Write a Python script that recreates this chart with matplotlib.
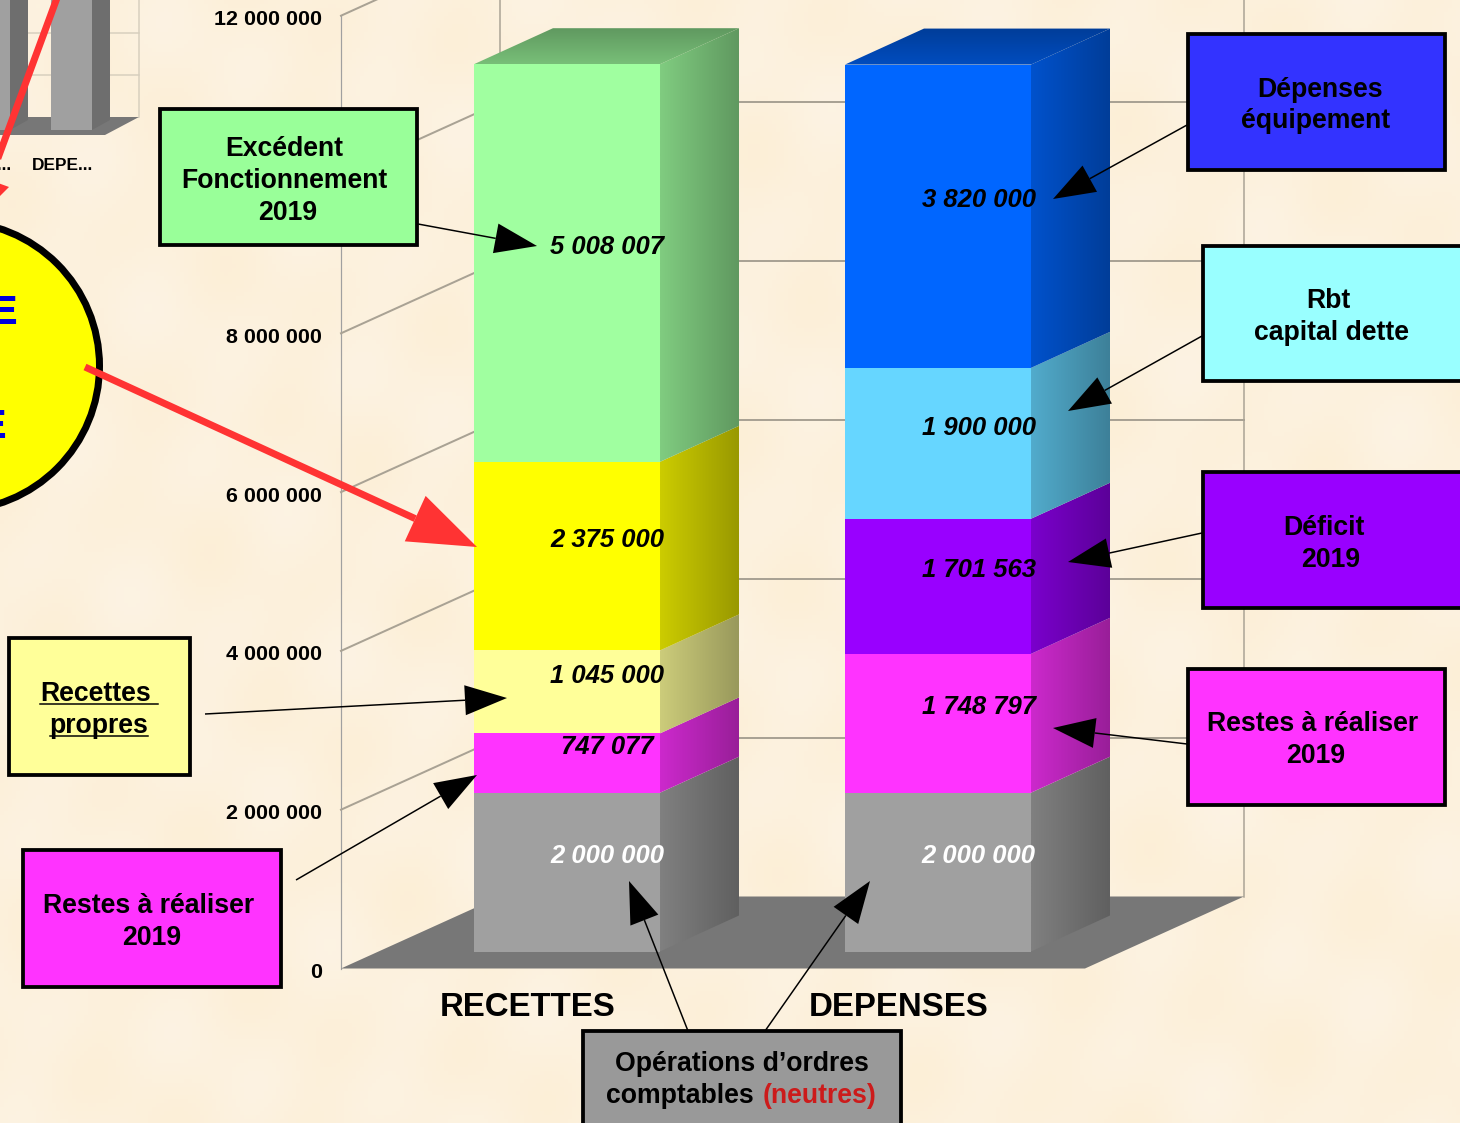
#!/usr/bin/env python3
"""Stacked 3D-style budget columns with callout boxes."""

import numpy as np

import matplotlib
matplotlib.use("Agg")
import matplotlib.pyplot as plt
from matplotlib.patches import Circle, Polygon, Rectangle

plt.rcParams["font.family"] = ["Liberation Sans", "DejaVu Sans"]

CATEGORIES = ["RECETTES", "DEPENSES"]
RECETTES_VALUES = [2000000, 747077, 1045000, 2375000, 5008007]
DEPENSES_VALUES = [2000000, 1748797, 1701563, 1900000, 3820000]
RECETTES_COLORS = ["#A0A0A0", "#FF33FF", "#FFFF99", "#FFFF00", "#A0FFA0"]
DEPENSES_COLORS = ["#A0A0A0", "#FF33FF", "#9900FF", "#66D6FF", "#0066FF"]
TICK_VALUES = [0, 2000000, 4000000, 6000000, 8000000, 10000000, 12000000]
# the 10 000 000 label sits behind the green box in the original
HIDDEN_TICK_LABELS = [10000000]

W, H = 1460, 1123
K = 79.4e-6            # pixels per unit of value
Y0 = 951.5             # pixel row of value 0 at the bar front
BAR_LEFT = [474, 845]
BAR_W = 186
DX, DY = 79, 36        # bar depth


def v(px):
    return (Y0 - px) / K


def pt(px):
    return px * 72 / 100


def fmt(n):
    return f"{n:,}".replace(",", " ")


def shade(color, f):
    return np.array(matplotlib.colors.to_rgb(color)) * f


def gradient_face(ax, pts, c0, c1, horizontal=True, zorder=3):
    poly = Polygon(pts, closed=True, fc="none", ec="none", transform=ax.transData)
    ax.add_patch(poly)
    xs, ys = zip(*pts)
    t = np.linspace(0, 1, 64)
    g = np.outer(1 - t, c0) + np.outer(t, c1)
    g = g[None, :, :] if horizontal else g[:, None, :]
    im = ax.imshow(g, extent=[min(xs), max(xs), min(ys), max(ys)], aspect="auto",
                   origin="lower", interpolation="bilinear", zorder=zorder)
    im.set_clip_path(poly)


def draw_column(ax, left, values, colors, label):
    dv = DY / K
    bottom = 0
    cx = left + BAR_W / 2
    for val, col in zip(values, colors):
        ax.bar(left, val, width=BAR_W, bottom=bottom, align="edge", color=col, zorder=4)
        right = left + BAR_W
        face = [(right, bottom), (right + DX, bottom + dv),
                (right + DX, bottom + val + dv), (right, bottom + val)]
        gradient_face(ax, face, shade(col, 0.8), shade(col, 0.6))
        txtcol = "white" if col == "#A0A0A0" else "black"
        ax.text(cx + DX / 2 + 1, bottom + val / 2 + 15.8 / K, fmt(val), color=txtcol, ha="center",
                va="center", fontsize=pt(25.6), fontweight="bold", style="italic", zorder=6)
        bottom += val
    top = [(left, bottom), (left + DX, bottom + dv),
           (left + DX + BAR_W, bottom + dv), (left + BAR_W, bottom)]
    gradient_face(ax, top, shade(colors[-1], 0.75), shade(colors[-1], 0.6), horizontal=False)
    ax.text(cx - DX / 2, v(1007), label, ha="center", va="center", fontsize=pt(33),
            fontweight="bold", zorder=6)


def arrow(ov, x0, y0, x1, y1, color="black", lw=1.5, hl=42, hw=30, zorder=8):
    d = np.array([x1 - x0, y1 - y0], dtype=float)
    d /= np.hypot(*d)
    n = np.array([-d[1], d[0]])
    tip = np.array([x1, y1])
    base = tip - d * hl
    ov.plot([x0, base[0]], [y0, base[1]], color=color, lw=pt(lw), solid_capstyle="butt", zorder=zorder)
    ov.add_patch(Polygon([tip, base + n * hw / 2, base - n * hw / 2], closed=True,
                         fc=color, ec="none", zorder=zorder))


def box(ov, x0, y0, x1, y1, color):
    ov.add_patch(Rectangle((x0 + 1, y0 + 1), x1 - x0 - 2, y1 - y0 - 2, fc=color, ec="black",
                           lw=pt(3.8), joinstyle="miter", zorder=5))


def label(ov, x, y, s, size=26.6, **kw):
    ov.text(x, y + 2, s, ha=kw.pop("ha", "center"), va="center", fontsize=pt(size),
            fontweight="bold", zorder=6, **kw)


def main():
    fig = plt.figure(figsize=(W / 100, H / 100), dpi=100)
    ax = fig.add_axes([0, 0, 1, 1])
    ax.axis("off")

    # parchment background
    xx, yy = np.meshgrid(np.arange(0, W, 4), np.arange(0, H, 4))
    mott = (np.sin(xx / 31 + yy / 53) + np.sin(xx / 19 - yy / 41 + 1.3)
            + np.sin(xx / 71 + yy / 23 + 2.1))
    bg = np.dstack([np.full_like(mott, 252), 241 + mott * 0.7, 221 + mott * 2.0]) / 255
    ax.imshow(bg, extent=[0, W, v(H), v(0)], aspect="auto", origin="lower", zorder=0)

    # walls and floor
    wall_col = "#A9A294"
    front = -17 / K
    back = 55 / K
    ax.add_patch(Polygon([(341, front), (1085, front), (1244, back), (500, back)],
                         closed=True, fc="#777777", ec="none", zorder=2))
    ax.plot([341, 341], [front, front + TICK_VALUES[-1]], color="#A0A0A0", lw=pt(1.2), zorder=1)
    ax.plot([500, 500], [back, v(0)], color=wall_col, lw=pt(1.5), zorder=1)
    ax.plot([1244, 1244], [back, v(0)], color=wall_col, lw=pt(1.5), zorder=1)
    for t in TICK_VALUES:
        if t > 0:
            ax.plot([341, 500], [front + t, back + t], color=wall_col, lw=pt(2), zorder=1)
            ax.plot([500, 1244], [back + t, back + t], color=wall_col, lw=pt(2), zorder=1)
        if t not in HIDDEN_TICK_LABELS:
            ax.text(322, front + t - 4 / K, fmt(t), ha="right", va="center", fontsize=pt(21.5),
                    fontweight="bold", zorder=3)

    draw_column(ax, BAR_LEFT[0], RECETTES_VALUES, RECETTES_COLORS, CATEGORIES[0])
    draw_column(ax, BAR_LEFT[1], DEPENSES_VALUES, DEPENSES_COLORS, CATEGORIES[1])

    ax.set_xlim(0, W)
    ax.set_ylim(v(H), v(0))

    # overlay in pixels for the slide decoration
    ov = fig.add_axes([0, 0, 1, 1], zorder=2)
    ov.axis("off")
    ov.set_xlim(0, W)
    ov.set_ylim(H, 0)

    # small chart cut off in the corner
    for y in (33, 75):
        ov.plot([0, 139], [y, y], color="#D8CFBE", lw=pt(1.5), zorder=1)
    ov.plot([139, 139], [0, 117], color="#D8CFBE", lw=pt(1.5), zorder=1)
    ov.add_patch(Polygon([(0, 135), (105, 135), (139, 117), (0, 117)], closed=True,
                         fc="#777777", ec="none", zorder=2))
    for x0, x1, x2 in ((-30, 10, 28), (51, 92, 110)):
        ov.add_patch(Rectangle((x0, 0), x1 - x0, 130, fc="#A0A0A0", ec="none", zorder=3))
        ov.add_patch(Polygon([(x1, 0), (x2, 0), (x2, 120), (x1, 130)], closed=True,
                             fc="#6E6E6E", ec="none", zorder=3))
    ov.text(12, 166, "RECE...", ha="right", va="center", fontsize=pt(17.2), fontweight="bold", zorder=3)
    ov.text(32, 166, "DEPE...", ha="left", va="center", fontsize=pt(17.2), fontweight="bold", zorder=3)

    # yellow disc
    ov.add_patch(Circle((-45, 366), 144.5, fc="#FFFF00", ec="black", lw=pt(7), zorder=4))
    ov.text(17, 313, "E", color="#0000DD", ha="right", va="center", fontsize=pt(40),
            fontweight="bold", zorder=5)
    ov.text(6, 427, "E", color="#0000DD", ha="right", va="center", fontsize=pt(40),
            fontweight="bold", zorder=5)

    # callout boxes
    box(ov, 159, 108, 418, 246, "#99FF99")
    label(ov, 284, 147, "Excédent")
    label(ov, 284, 179, "Fonctionnement")
    label(ov, 288, 211, "2019")
    box(ov, 1187, 33, 1446, 171, "#3333FF")
    label(ov, 1320, 88, "Dépenses")
    label(ov, 1316, 119, "équipement")
    box(ov, 1202, 245, 1464, 382, "#99FFFF")
    label(ov, 1328, 299, "Rbt")
    label(ov, 1331, 331, "capital dette")
    box(ov, 1202, 471, 1464, 609, "#9900FF")
    label(ov, 1324, 526, "Déficit")
    label(ov, 1331, 558, "2019")
    box(ov, 1187, 668, 1446, 806, "#FF33FF")
    label(ov, 1313, 722, "Restes à réaliser")
    label(ov, 1316, 754, "2019")
    box(ov, 8, 637, 191, 776, "#FFFF99")
    label(ov, 96, 692, "Recettes")
    label(ov, 99, 724, "propres")
    ov.plot([40, 158], [704, 704], color="black", lw=pt(1.5), zorder=6)
    ov.plot([50, 148], [736, 736], color="black", lw=pt(1.5), zorder=6)
    box(ov, 22, 849, 282, 988, "#FF33FF")
    label(ov, 149, 904, "Restes à réaliser")
    label(ov, 152, 936, "2019")
    box(ov, 582, 1030, 902, 1130, "#999999")
    label(ov, 742, 1062, "Opérations d’ordres")
    label(ov, 754, 1094, "comptables", ha="right")
    label(ov, 763, 1094, "(neutres)", ha="left", color="#CC1B1B")

    # black arrows
    arrow(ov, 418, 224, 537, 246)
    arrow(ov, 1187, 125, 1053, 199)
    arrow(ov, 1202, 336, 1068, 411)
    arrow(ov, 1202, 533, 1068, 562)
    arrow(ov, 1187, 744, 1053, 728)
    arrow(ov, 205, 714, 507, 698)
    arrow(ov, 296, 880, 477, 775)
    arrow(ov, 688, 1031, 629, 881)
    arrow(ov, 765, 1031, 870, 881)

    # red arrows
    arrow(ov, 85, 367, 477, 547, color="#FF3333", lw=7, hl=68, hw=50, zorder=9)
    ov.plot([57, -2], [-2, 158], color="#FF3333", lw=pt(7), zorder=9)
    ov.add_patch(Polygon([(9, 187), (-2, 198), (-2, 183)], closed=True, fc="#FF3333",
                         ec="none", zorder=9))

    fig.savefig("out.png", dpi=100)


if __name__ == "__main__":
    main()
